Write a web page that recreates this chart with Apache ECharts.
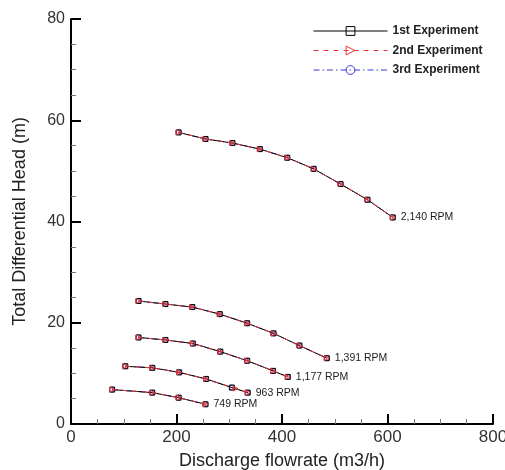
<!DOCTYPE html>
<html>
<head>
<meta charset="utf-8">
<script src="https://cdn.jsdelivr.net/npm/echarts@6/dist/echarts.min.js"></script>
<style>
  html, body { margin: 0; padding: 0; background: #fff; }
  #chart { width: 505px; height: 470px; }
</style>
</head>
<body>
<div id="chart"></div>
<script>
// Pump performance curves: head vs. discharge flow at five shaft speeds
const experimentNames = ['1st Experiment', '2nd Experiment', '3rd Experiment'];
const rpmLabels = ['2,140 RPM', '1,391 RPM', '1,177 RPM', '963 RPM', '749 RPM'];

const xTicks = [0, 200, 400, 600, 800];
const yTicks = [0, 20, 40, 60, 80];

// 2,140 RPM
const flow2140 = [204, 255, 306, 358, 410, 460, 511, 562, 610];
const head2140 = [57.6, 56.3, 55.5, 54.3, 52.6, 50.4, 47.4, 44.3, 40.8];
// 1,391 RPM
const flow1391 = [128, 179, 230, 282, 334, 384, 433, 485];
const head1391 = [24.3, 23.7, 23.1, 21.7, 19.9, 17.9, 15.5, 13.0];
// 1,177 RPM
const flow1177 = [128, 179, 231, 283, 334, 383, 411];
const head1177 = [17.1, 16.6, 15.9, 14.3, 12.5, 10.5, 9.3];
// 963 RPM (1st / 3rd runs)
const flow963 = [103, 154, 205, 256, 305, 335];
const head963 = [11.4, 11.1, 10.2, 8.9, 7.2, 6.2];
// 963 RPM (2nd run)
const flow963b = [103, 154, 205, 256, 312, 335];
const head963b = [11.4, 11.1, 10.2, 8.9, 7.0, 6.2];
// 749 RPM
const flow749 = [78, 154, 204, 255];
const head749 = [6.8, 6.2, 5.2, 3.9];

const curvesExp1 = [[flow2140, head2140], [flow1391, head1391], [flow1177, head1177], [flow963, head963], [flow749, head749]];
const curvesExp2 = [[flow2140, head2140], [flow1391, head1391], [flow1177, head1177], [flow963b, head963b], [flow749, head749]];
const curvesExp3 = curvesExp1;

const styles = {
  '1st Experiment': { color: '#000000', symbol: 'rect', rotate: 0, type: 'solid', z: 3 },
  '2nd Experiment': { color: '#e8383c', symbol: 'triangle', rotate: -90, type: [5, 5], z: 4 },
  '3rd Experiment': { color: '#3a3ad4', symbol: 'circle', rotate: 0, type: [6, 3, 1.5, 3], z: 2 }
};

function buildSeries(name, curves, withLabels) {
  const st = styles[name];
  return curves.map(function (c, ci) {
    const xs = c[0], ys = c[1];
    const data = xs.map(function (x, i) {
      const item = { value: [x, ys[i]] };
      if (withLabels && i === xs.length - 1) {
        item.label = {
          show: true, position: 'right', distance: 5,
          formatter: rpmLabels[ci], color: '#222', fontSize: 10.5,
          fontFamily: 'Liberation Sans, Arial, sans-serif'
        };
      }
      return item;
    });
    return {
      name: name,
      type: 'line',
      data: data,
      z: st.z,
      symbol: st.symbol,
      symbolRotate: st.rotate,
      symbolSize: 5,
      showAllSymbol: true,
      lineStyle: { color: st.color, width: 1, type: st.type },
      itemStyle: { color: 'rgba(0,0,0,0)', borderColor: st.color, borderWidth: 1 },
      emphasis: { disabled: true },
      label: { show: false }
    };
  });
}

const series = []
  .concat(buildSeries('3rd Experiment', curvesExp3, false))
  .concat(buildSeries('1st Experiment', curvesExp1, true))
  .concat(buildSeries('2nd Experiment', curvesExp2, false));

const axisFont = 'Liberation Sans, Arial, sans-serif';

const chart = echarts.init(document.getElementById('chart'), null, { renderer: 'canvas' });
chart.setOption({
  animation: false,
  backgroundColor: '#ffffff',
  grid: { left: 71, right: 12, top: 19, bottom: 46, containLabel: false, outerBoundsMode: 'none' },
  legend: {
    data: experimentNames,
    orient: 'vertical',
    left: 308,
    top: 20,
    itemWidth: 74,
    itemHeight: 11,
    itemGap: 7.5,
    selectedMode: false,
    lineStyle: { width: 1 },
    itemStyle: { borderWidth: 1 },
    textStyle: { color: '#222', fontSize: 12, fontWeight: 'bold', fontFamily: axisFont, lineHeight: 11 }
  },
  xAxis: {
    type: 'value',
    min: xTicks[0], max: xTicks[xTicks.length - 1], interval: 200,
    name: 'Discharge flowrate (m3/h)',
    nameLocation: 'middle',
    nameGap: 28,
    nameTextStyle: { color: '#222', fontSize: 18, fontFamily: axisFont },
    axisLine: { show: true, onZero: false, lineStyle: { color: '#000', width: 2 } },
    axisTick: { show: true, inside: true, length: 10, lineStyle: { color: '#000', width: 2 } },
    minorTick: { show: true, splitNumber: 4, length: 5, lineStyle: { color: '#777', width: 1 } },
    axisLabel: { color: '#333', fontSize: 17, margin: 5, fontFamily: axisFont, showMaxLabel: true },
    splitLine: { show: false }
  },
  yAxis: {
    type: 'value',
    min: yTicks[0], max: yTicks[yTicks.length - 1], interval: 20,
    name: 'Total Differential Head (m)',
    nameLocation: 'middle',
    nameGap: 42,
    nameTextStyle: { color: '#222', fontSize: 18, fontFamily: axisFont },
    axisLine: { show: true, onZero: false, lineStyle: { color: '#000', width: 2 } },
    axisTick: { show: true, inside: true, length: 10, lineStyle: { color: '#000', width: 2 } },
    minorTick: { show: true, splitNumber: 4, length: 5, lineStyle: { color: '#777', width: 1 } },
    axisLabel: { color: '#333', fontSize: 16, margin: 6, fontFamily: axisFont },
    splitLine: { show: false }
  },
  series: series
});
</script>
</body>
</html>
